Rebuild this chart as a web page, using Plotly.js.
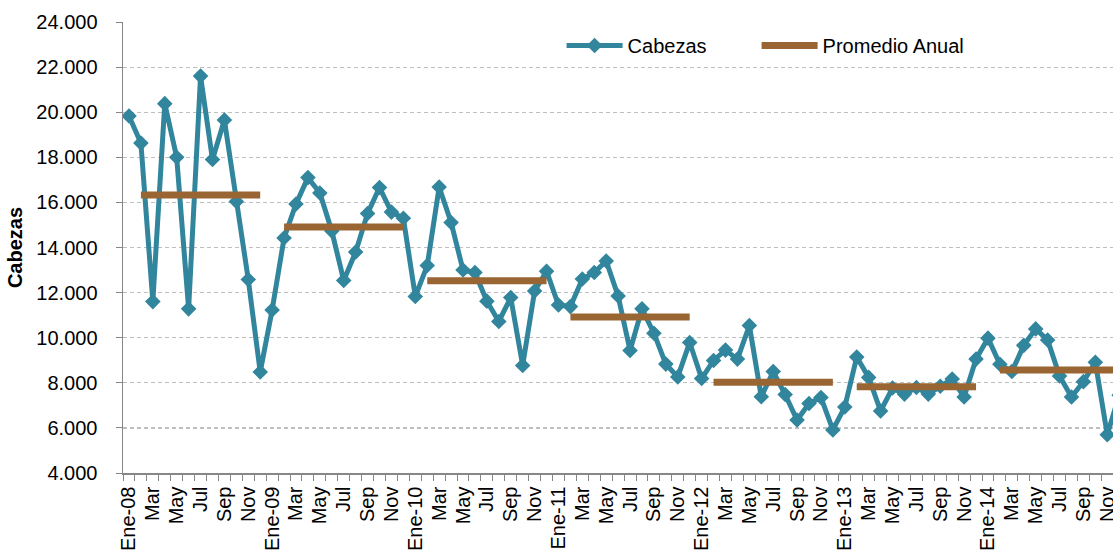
<!DOCTYPE html>
<html>
<head>
<meta charset="utf-8">
<script src="https://cdn.plot.ly/plotly-3.0.1.min.js"></script>
<style>
html,body{margin:0;padding:0;background:#fff;overflow:hidden;}
#chart{width:1113px;height:554px;}
</style>
</head>
<body>
<div id="chart"></div>
<script>
var monthNames = ["Ene","Feb","Mar","Abr","May","Jun","Jul","Ago","Sep","Oct","Nov","Dic"];
var years = ["08","09","10","11","12","13","14"];

var cabezas = [
  19830,18630,11600,20380,18000,11280,21600,17900,19650,16040,12580,8480,
  11230,14420,15930,17100,16420,14730,12540,13800,15510,16660,15570,15300,
  11830,13200,16680,15110,13000,12890,11620,10720,11780,8770,12070,12950,
  11450,11380,12600,12890,13400,11850,9430,11280,10200,8830,8260,9790,
  8190,8990,9450,9050,10540,7380,8500,7480,6350,7080,7350,5910,
  6930,9140,8240,6750,7770,7500,7790,7500,7850,8170,7370,9050,
  9980,8820,8500,9660,10390,9900,8300,7370,8050,8910,5700,7450
];
var promedioAnual = [16330, 14910, 12530, 10920, 8020, 7820, 8570];

var labels = [];
years.forEach(function(y){ monthNames.forEach(function(m){ labels.push(m + "-" + y); }); });
var xIdx = labels.map(function(_, i){ return i; });

var promSeries = labels.map(function(_, i){
  return (i % 12 === 0) ? null : promedioAnual[Math.floor(i / 12)];
});

var tickvals = [], ticktext = [];
labels.forEach(function(l, i){
  if (i % 2 === 0) {
    tickvals.push(i);
    ticktext.push(i % 12 === 0 ? l : monthNames[i % 12]);
  }
});

var yTicks = [4000,6000,8000,10000,12000,14000,16000,18000,20000,22000,24000];
var yText = yTicks.map(function(v){ return (v/1000).toFixed(3); });

var traces = [
  {
    x: xIdx, y: cabezas, name: "Cabezas", type: "scatter", mode: "lines+markers",
    line: {color: "#31859C", width: 5},
    marker: {symbol: "diamond", size: 12, color: "#31859C"},
    legend: "legend"
  },
  {
    x: xIdx, y: promSeries, name: "Promedio Anual", type: "scatter", mode: "lines",
    connectgaps: false,
    line: {color: "#996633", width: 7},
    legend: "legend2"
  }
];

var legendBase = {
  orientation: "h", y: 0.948, xanchor: "left", yanchor: "middle",
  font: {size: 20, color: "#000"}, bgcolor: "rgba(0,0,0,0)", itemwidth: 56
};

var layout = {
  width: 1113, height: 554,
  margin: {l: 123, r: 0, t: 22, b: 81},
  paper_bgcolor: "#fff", plot_bgcolor: "#fff",
  font: {family: "Liberation Sans, Arial, sans-serif", size: 20, color: "#000"},
  showlegend: true,
  legend: Object.assign({}, legendBase, {x: 0.443}),
  legend2: Object.assign({}, legendBase, {x: 0.640}),
  xaxis: {
    range: [-0.5, 82.48],
    tickmode: "array", tickvals: tickvals, ticktext: ticktext,
    tickangle: -90, ticks: "", showgrid: false, zeroline: false,
    showline: true, linecolor: "#868686", linewidth: 1.5,
    tickfont: {size: 20, color: "#000"}, ticklabelstandoff: 4,
    ticklabeloverflow: "allow",
    minor: {tick0: -0.5, dtick: 1, ticks: "outside", ticklen: 6, tickcolor: "#868686", tickwidth: 1, showgrid: false}
  },
  yaxis: {
    range: [4000, 24000],
    tickmode: "array", tickvals: yTicks, ticktext: yText,
    ticks: "outside", ticklen: 6, tickcolor: "#868686", tickwidth: 1,
    showline: true, linecolor: "#868686", linewidth: 1.5,
    showgrid: true, gridcolor: "#BFBFBF", gridwidth: 1.2, griddash: "4px,3px",
    zeroline: false, ticklabelstandoff: 14,
    tickfont: {size: 20, color: "#000"},
    title: {text: "<b>Cabezas</b>", font: {size: 20, color: "#000"}, standoff: 8}
  }
};

Plotly.newPlot("chart", traces, layout, {displayModeBar: false, staticPlot: true});
</script>
</body>
</html>
